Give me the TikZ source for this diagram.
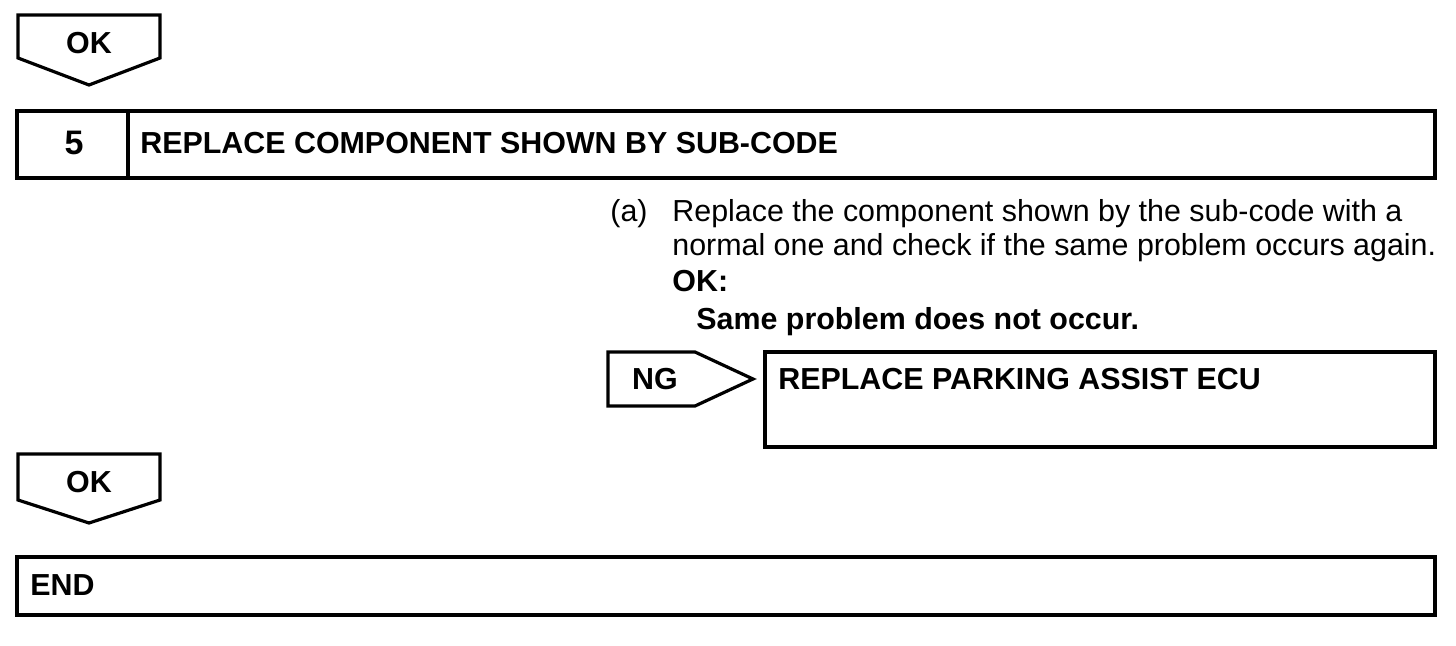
\documentclass[tikz,border=0pt]{standalone}
\usepackage{fontspec}
\setmainfont{Liberation Sans}
\begin{document}
\begin{tikzpicture}[x=0.5pt,y=-0.5pt,
  frame/.style={draw=black,line width=1.6pt,line join=miter},
  bt/.style={font=\bfseries\fontsize{15.2}{18}\selectfont,inner sep=0pt},
  rt/.style={font=\fontsize{15.2}{18}\selectfont,inner sep=0pt,anchor=base west},
]
\useasboundingbox (0,0) rectangle (1456,646);
% OK 1
\draw[frame] (18,15) -- (160,15) -- (160,58) -- (89,85) -- (18,58) -- cycle;
\node[bt] (ok1) at (89,43) {OK};
% step 5
\draw[frame] (17,111) rectangle (1435,178);
\draw[frame] (128,111) -- (128,178);
\node[bt,font=\bfseries\fontsize{17}{20}\selectfont] (n5) at (74,143) {5};
\node[bt,anchor=west] (t5) at (140,143) {REPLACE COMPONENT SHOWN BY SUB-CODE};
% text
\node[rt] (a) at (610,222) {(a)};
\node[rt] (l1) at (672,222) {Replace the component shown by the sub-code with a};
\node[rt] (l2) at (672,256) {normal one and check if the same problem occurs again.};
\node[rt,font=\bfseries\fontsize{15.2}{18}\selectfont] (l3) at (672,292) {OK:};
\node[rt,font=\bfseries\fontsize{15.2}{18}\selectfont] (l4) at (696,330) {Same problem does not occur.};
% NG
\draw[frame] (608,352) -- (695,352) -- (753,379) -- (695,406) -- (608,406) -- cycle;
\node[bt] (ng) at (655,379) {NG};
\draw[frame] (765,352) rectangle (1435,447);
\node[bt,anchor=base west] (ecu) at (778,390) {REPLACE PARKING ASSIST ECU};
% OK 2
\draw[frame] (18,454) -- (160,454) -- (160,500) -- (89,523) -- (18,500) -- cycle;
\node[bt] (ok2) at (89,482) {OK};
% END
\draw[frame] (17,557) rectangle (1435,615);
\node[bt,anchor=west] (end) at (30,585) {END};
\end{tikzpicture}
\end{document}
